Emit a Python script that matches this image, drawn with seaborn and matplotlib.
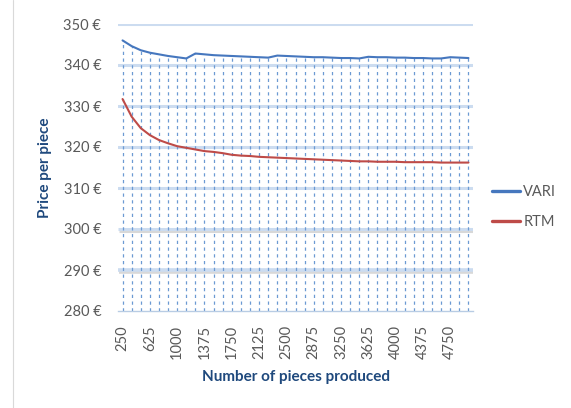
import matplotlib
matplotlib.use("Agg")
import matplotlib.pyplot as plt
import matplotlib.patheffects as pe
from matplotlib.lines import Line2D
import pandas as pd
import seaborn as sns

# Production quantities (categories) and price per piece for each process
pieces = [250, 375, 500, 625, 750, 875, 1000, 1125, 1250, 1375, 1500, 1625, 1750,
          1875, 2000, 2125, 2250, 2375, 2500, 2625, 2750, 2875, 3000, 3125, 3250,
          3375, 3500, 3625, 3750, 3875, 4000, 4125, 4250, 4375, 4500, 4625, 4750,
          4875, 5000]
vari = [346.0, 344.6, 343.6, 343.0, 342.6, 342.2, 341.9, 341.6, 342.8, 342.6,
        342.4, 342.3, 342.2, 342.1, 342.0, 341.9, 341.8, 342.3, 342.2, 342.1,
        342.0, 341.9, 341.9, 341.8, 341.7, 341.7, 341.6, 342.0, 341.9, 341.9,
        341.8, 341.8, 341.7, 341.7, 341.6, 341.6, 341.9, 341.8, 341.7]
rtm = [331.7, 327.4, 324.6, 322.9, 321.7, 320.9, 320.2, 319.8, 319.4, 319.0,
       318.8, 318.5, 318.1, 317.9, 317.8, 317.6, 317.5, 317.4, 317.3, 317.2,
       317.1, 317.0, 316.9, 316.8, 316.7, 316.6, 316.5, 316.5, 316.4, 316.4,
       316.4, 316.3, 316.3, 316.3, 316.3, 316.2, 316.2, 316.2, 316.2]
series_names = ["VARI", "RTM"]
y_ticks = [280, 290, 300, 310, 320, 330, 340, 350]
x_tick_labels = [250, 625, 1000, 1375, 1750, 2125, 2500, 2875, 3250, 3625,
                 4000, 4375, 4750]

colors = {"VARI": "#4677BE", "RTM": "#BE4B48"}
text_gray = "#595959"
title_blue = "#1F497D"

sns.set_theme(style="white")
plt.rcParams["font.family"] = ["Lato", "DejaVu Sans"]

df = pd.DataFrame({
    "pieces": pieces * 2,
    "price": vari + rtm,
    "process": [series_names[0]] * len(vari) + [series_names[1]] * len(rtm),
})

W, H = 571, 408
fig = plt.figure(figsize=(W / 100, H / 100), dpi=100)
fig.patch.set_facecolor("white")
left, right, top, bottom = 118, 473, 24, 311
ax = fig.add_axes([left / W, 1 - bottom / H, (right - left) / W, (bottom - top) / H])

# horizontal gridlines
for v in y_ticks[1:]:
    ax.axhline(v, color="#CCDCF0", lw=2.2, zorder=1)

# drop lines from the upper series down to the category axis
ax.vlines(pieces, y_ticks[0], vari, colors="#6C9AD3", linestyles=(0, (2.6, 2.8)),
          lw=0.9, zorder=2)

shadow = [pe.SimpleLineShadow(offset=(0.8, -1.2), shadow_color="#7f7f7f", alpha=0.3),
          pe.Normal()]
sns.lineplot(data=df, x="pieces", y="price", hue="process", palette=colors,
             hue_order=series_names, ax=ax, legend=False, zorder=3)
for line, lw in zip(ax.lines, [2.6, 2.2]):
    line.set_linewidth(lw)
    line.set_path_effects(shadow)
    line.set_solid_capstyle("butt")
    line.set_solid_joinstyle("round")

ax.set_xlim(pieces[0] - 62.5, pieces[-1] + 62.5)
ax.set_ylim(y_ticks[0], y_ticks[-1])
ax.set_yticks(y_ticks)
ax.set_yticklabels([f"{v} €" for v in y_ticks], color=text_gray, fontsize=10.5)
ax.set_xticks(x_tick_labels)
ax.set_xticklabels([str(v) for v in x_tick_labels], rotation=90, color=text_gray,
                   fontsize=10.5)
ax.tick_params(axis="y", length=0, pad=12)
ax.tick_params(axis="x", length=0, pad=10)

for side in ["top", "right", "left"]:
    ax.spines[side].set_visible(False)
ax.spines["bottom"].set_color("#B8CCE4")
ax.spines["bottom"].set_linewidth(1.0)
ax.set_facecolor("white")

ax.set_xlabel("Number of pieces produced", fontsize=11, fontweight="bold",
              color=title_blue, labelpad=8)
ax.set_ylabel("Price per piece", fontsize=11, fontweight="bold",
              color=title_blue, labelpad=8)

handles = [Line2D([], [], color=colors[n], lw=2.4) for n in series_names]
leg = ax.legend(handles, series_names, loc="center left",
                bbox_to_anchor=(492 / W, 1 - 207 / H), bbox_transform=fig.transFigure,
                frameon=False, fontsize=10.5, handlelength=1.9, handletextpad=0.25,
                labelspacing=1.1, borderpad=0, borderaxespad=0)
for t in leg.get_texts():
    t.set_color(text_gray)

# chart area border
fig.add_artist(Line2D([13 / W, 13 / W], [0, 1], color="#D9D9D9", lw=0.8))

fig.savefig("out.png", dpi=100)
